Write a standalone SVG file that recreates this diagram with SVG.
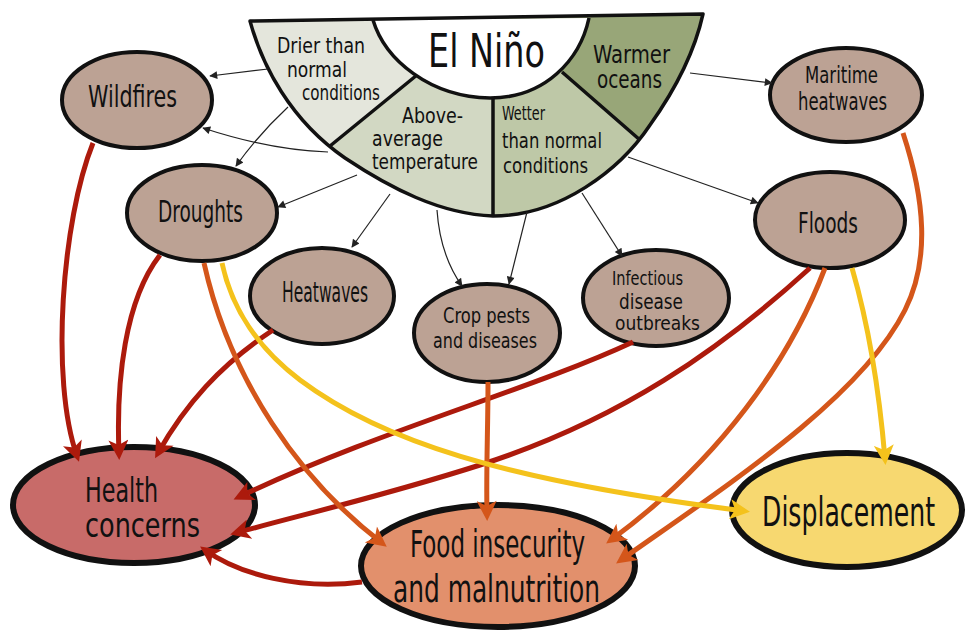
<svg xmlns="http://www.w3.org/2000/svg" width="967" height="633" viewBox="0 0 967 633">
<style>
text{font-family:'Liberation Sans Narrow','DejaVu Sans Condensed','Liberation Sans',sans-serif;fill:#111}
.node{fill:#bca294;stroke:#111;stroke-width:4}
.big{stroke:#111;stroke-width:6}
.div{fill:none;stroke:#111;stroke-width:3.5;stroke-linejoin:round}
.thin{fill:none;stroke:#222;stroke-width:1.2;marker-end:url(#ah)}
.red{fill:none;stroke:#ac1a0c;stroke-width:5;marker-end:url(#ar)}
.org{fill:none;stroke:#d4561a;stroke-width:5;marker-end:url(#ao)}
.yel{fill:none;stroke:#f4c21c;stroke-width:5;marker-end:url(#ay)}
</style>
<defs>
<marker id="ah" viewBox="0 0 10 10" refX="9" refY="5" markerWidth="10" markerHeight="8" markerUnits="userSpaceOnUse" orient="auto"><path d="M0,0 L10,5 L0,10 z" fill="#222"/></marker>
<marker id="ar" viewBox="0 0 10 10" refX="7" refY="5" markerWidth="23" markerHeight="20" markerUnits="userSpaceOnUse" orient="auto"><path d="M0,0 L10,5 L0,10 L2.5,5 z" fill="#ac1a0c"/></marker>
<marker id="ao" viewBox="0 0 10 10" refX="7" refY="5" markerWidth="23" markerHeight="20" markerUnits="userSpaceOnUse" orient="auto"><path d="M0,0 L10,5 L0,10 L2.5,5 z" fill="#d4561a"/></marker>
<marker id="ay" viewBox="0 0 10 10" refX="7" refY="5" markerWidth="23" markerHeight="20" markerUnits="userSpaceOnUse" orient="auto"><path d="M0,0 L10,5 L0,10 L2.5,5 z" fill="#f4c21c"/></marker>
<clipPath id="fan"><path d="M250,21 C262,65 290,120 345,158 C390,188 440,214 493,216 C560,216 620,170 650,125 C675,90 695,50 703,14 Z"/></clipPath>
</defs>

<g id="el-nino">
<g clip-path="url(#fan)">
<rect x="200" y="-10" width="560" height="250" fill="#d2d8c3"/>
<rect x="493" y="-10" width="270" height="250" fill="#bec8a7"/>
<polygon points="470,-8 770,-8 770,230 743,230" fill="#98a678"/>
<polygon points="200,-8 519,-8 227,230 200,230" fill="#e4e6dc"/>
</g>
<path d="M373,20 C385,60 430,97 490,98 C545,98 580,60 589,18 Z" fill="#fff"/>
<path class="div" d="M250,21 C262,65 290,120 345,158 C390,188 440,214 493,216 C560,216 620,170 650,125 C675,90 695,50 703,14 Z"/>
<path class="div" d="M373,20 C385,60 430,97 490,98 C545,98 580,60 589,18"/>
<path class="div" d="M417,75 L330,146 M493,98 L493,216 M562,72 L640,140"/>
<text x="428" y="67" font-size="46" textLength="117" lengthAdjust="spacingAndGlyphs">El Niño</text>
<text x="277" y="53" font-size="21" textLength="88" lengthAdjust="spacingAndGlyphs">Drier than</text>
<text x="287" y="77" font-size="21" textLength="60" lengthAdjust="spacingAndGlyphs">normal</text>
<text x="302" y="100" font-size="21" textLength="78" lengthAdjust="spacingAndGlyphs">conditions</text>
<text x="402" y="123" font-size="22" textLength="61" lengthAdjust="spacingAndGlyphs">Above-</text>
<text x="372" y="146" font-size="22" textLength="71" lengthAdjust="spacingAndGlyphs">average</text>
<text x="372" y="169" font-size="22" textLength="106" lengthAdjust="spacingAndGlyphs">temperature</text>
<text x="502" y="120" font-size="19" textLength="43" lengthAdjust="spacingAndGlyphs">Wetter</text>
<text x="502" y="148" font-size="22" textLength="100" lengthAdjust="spacingAndGlyphs">than normal</text>
<text x="503" y="173" font-size="22" textLength="85" lengthAdjust="spacingAndGlyphs">conditions</text>
<text x="593" y="63" font-size="25" textLength="77" lengthAdjust="spacingAndGlyphs">Warmer</text>
<text x="597" y="88" font-size="25" textLength="65" lengthAdjust="spacingAndGlyphs">oceans</text>
</g>

<g id="wildfires"><ellipse class="node" cx="137" cy="100" rx="75" ry="48"/>
<text x="88" y="107" font-size="30" textLength="89" lengthAdjust="spacingAndGlyphs">Wildfires</text></g>
<g id="droughts"><ellipse class="node" cx="202" cy="213" rx="75" ry="48"/>
<text x="158" y="222" font-size="30" textLength="85" lengthAdjust="spacingAndGlyphs">Droughts</text></g>
<g id="maritime"><ellipse class="node" cx="846" cy="95" rx="76" ry="47"/>
<text x="805" y="83" font-size="23" textLength="73" lengthAdjust="spacingAndGlyphs">Maritime</text>
<text x="798" y="110" font-size="25" textLength="89" lengthAdjust="spacingAndGlyphs">heatwaves</text></g>
<g id="floods"><ellipse class="node" cx="830" cy="220" rx="75" ry="48"/>
<text x="798" y="233" font-size="28" textLength="60" lengthAdjust="spacingAndGlyphs">Floods</text></g>
<g id="heatwaves"><ellipse class="node" cx="322" cy="296" rx="72" ry="48"/>
<text x="282" y="302" font-size="28" textLength="86" lengthAdjust="spacingAndGlyphs">Heatwaves</text></g>
<g id="crop"><ellipse class="node" cx="487" cy="333" rx="73" ry="49"/>
<text x="443" y="323" font-size="22" textLength="87" lengthAdjust="spacingAndGlyphs">Crop pests</text>
<text x="433" y="348" font-size="22" textLength="104" lengthAdjust="spacingAndGlyphs">and diseases</text></g>
<g id="infectious"><ellipse class="node" cx="656" cy="298" rx="73" ry="48"/>
<text x="612" y="285" font-size="20" textLength="71" lengthAdjust="spacingAndGlyphs">Infectious</text>
<text x="619" y="309" font-size="21" textLength="64" lengthAdjust="spacingAndGlyphs">disease</text>
<text x="615" y="330" font-size="20" textLength="85" lengthAdjust="spacingAndGlyphs">outbreaks</text></g>

<g id="health"><ellipse class="big" cx="134" cy="505" rx="121" ry="58" fill="#c86b69"/>
<text x="85" y="502" font-size="34" textLength="73" lengthAdjust="spacingAndGlyphs">Health</text>
<text x="85" y="537" font-size="34" textLength="115" lengthAdjust="spacingAndGlyphs">concerns</text></g>
<g id="food"><ellipse class="big" cx="498" cy="566" rx="137" ry="61" fill="#e2906c"/>
<text x="410" y="557" font-size="37" textLength="175" lengthAdjust="spacingAndGlyphs">Food insecurity</text>
<text x="393" y="602" font-size="37" textLength="207" lengthAdjust="spacingAndGlyphs">and malnutrition</text></g>
<g id="displacement"><ellipse class="big" cx="847" cy="510" rx="115" ry="57" fill="#f7d870"/>
<text x="762" y="526" font-size="40" textLength="173" lengthAdjust="spacingAndGlyphs">Displacement</text></g>

<g id="connectors">
<path class="thin" d="M268,69 L210,76"/>
<path class="thin" d="M288,107 Q258,135 236,166"/>
<path class="thin" d="M328,152 Q270,150 203,128"/>
<path class="thin" d="M357,175 L278,207"/>
<path class="thin" d="M390,194 L352,247"/>
<path class="thin" d="M437,210 Q440,255 462,286"/>
<path class="thin" d="M527,212 L509,284"/>
<path class="thin" d="M582,193 L622,256"/>
<path class="thin" d="M628,157 L758,203"/>
<path class="thin" d="M690,73 L772,83"/>

<path class="red" d="M93,143 C62,220 50,380 77,456"/>
<path class="red" d="M160,255 C125,300 116,380 119,454"/>
<path class="red" d="M273,330 C220,365 185,405 158,453"/>
<path class="red" d="M633,342 C530,390 380,430 239,497"/>
<path class="red" d="M810,268 C720,350 620,420 480,465 C380,497 300,515 236,533"/>
<path class="red" d="M362,582 C300,590 240,575 205,550"/>

<path class="org" d="M204,263 C230,380 300,480 382,543"/>
<path class="org" d="M488,382 C488,430 486,470 487,515"/>
<path class="org" d="M825,268 C790,360 720,460 611,540"/>
<path class="org" d="M903,133 C925,200 930,260 905,310 C860,400 720,490 621,560"/>

<path class="yel" d="M222,263 C232,310 260,350 300,380 C380,440 500,480 744,511"/>
<path class="yel" d="M852,268 C870,330 880,400 885,459"/>
</g>
</svg>
